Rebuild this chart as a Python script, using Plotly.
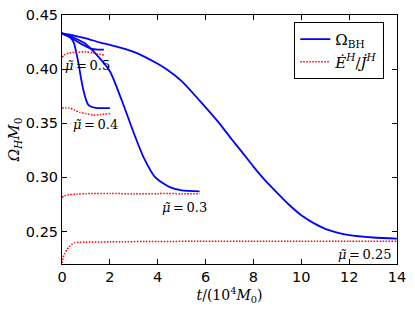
import plotly.graph_objects as go

# mu = 0.25
t_b25 = [0, 0.5, 1, 1.6, 2, 3, 4, 4.4, 5, 5.75, 6.5, 7.1, 7.5, 8, 8.5, 9, 9.5, 10, 10.5, 11, 11.5, 12, 13, 14]
o_b25 = [0.433, 0.4310, 0.4285, 0.4245, 0.4225, 0.4160, 0.4050, 0.3995, 0.389, 0.371, 0.352, 0.335, 0.324, 0.310, 0.297, 0.2855, 0.2745, 0.265, 0.258, 0.2525, 0.2490, 0.2466, 0.2445, 0.2435]
t_r25 = [0, 0.05, 0.1, 0.2, 0.3, 0.4, 0.5, 0.7, 1, 2, 4, 6, 8, 10, 12, 14]
o_r25 = [0.221, 0.226, 0.229, 0.233, 0.236, 0.238, 0.2395, 0.2400, 0.2402, 0.2405, 0.2408, 0.241, 0.241, 0.241, 0.241, 0.241]

# mu = 0.3
t_b30 = [0, 0.5, 1, 1.5, 2, 2.5, 3, 3.4, 3.9, 4.5, 5, 5.75]
o_b30 = [0.433, 0.429, 0.423, 0.412, 0.398, 0.371, 0.341, 0.319, 0.300, 0.291, 0.288, 0.287]
t_r30 = [0, 0.1, 0.3, 0.6, 1, 2, 3, 4, 5, 5.75]
o_r30 = [0.2815, 0.283, 0.284, 0.2845, 0.285, 0.2852, 0.2848, 0.285, 0.285, 0.285]

# mu = 0.4
t_b40 = [0, 0.2, 0.4, 0.5, 0.6, 0.7, 0.8, 0.9, 1.0, 1.1, 1.25, 1.5, 2.0]
o_b40 = [0.433, 0.431, 0.428, 0.424, 0.415, 0.404, 0.391, 0.380, 0.372, 0.367, 0.365, 0.364, 0.364]
t_r40 = [0, 0.3, 0.5, 0.75, 1.0, 1.3, 1.6, 2.0]
o_r40 = [0.364, 0.364, 0.3625, 0.360, 0.359, 0.3575, 0.358, 0.359]

# mu = 0.5
t_b50 = [0, 0.3, 0.6, 0.9, 1.2, 1.5, 1.75]
o_b50 = [0.433, 0.430, 0.426, 0.422, 0.419, 0.418, 0.418]
t_r50 = [0, 0.1, 0.3, 0.6, 1.0, 1.3, 1.5, 1.75]
o_r50 = [0.411, 0.413, 0.415, 0.4155, 0.416, 0.415, 0.414, 0.413]

labels = ["<i>μ̃</i>\u2009=\u20090.5", "<i>μ̃</i>\u2009=\u20090.4", "<i>μ̃</i>\u2009=\u20090.3", "<i>μ̃</i>\u2009=\u20090.25"]
label_t = [1.08, 1.42, 5.1, 13.85]
label_o = [0.4035, 0.349, 0.2723, 0.229]
label_anchor = ["center", "center", "center", "right"]

x_ticks = [0, 2, 4, 6, 8, 10, 12, 14]
y_ticks = [0.25, 0.30, 0.35, 0.40, 0.45]

fig = go.Figure()
blue = dict(color="#0000ff", width=1.8, shape="spline", smoothing=0.7)
red = dict(color="#ff0000", width=1.5, dash="1.5px,1.5px", shape="spline", smoothing=0.7)

series = [(t_b25, o_b25, t_r25, o_r25), (t_b30, o_b30, t_r30, o_r30),
          (t_b40, o_b40, t_r40, o_r40), (t_b50, o_b50, t_r50, o_r50)]
for i, (tb, ob, tr, orr) in enumerate(series):
    fig.add_trace(go.Scatter(x=tb, y=ob, mode="lines", line=blue, name="Ω<sub>BH</sub>",
                             legendgroup="b", showlegend=(i == 0), legendrank=1))
for i, (tb, ob, tr, orr) in enumerate(series):
    fig.add_trace(go.Scatter(x=tr, y=orr, mode="lines", line=red,
                             name="<i>Ė<sup>H</sup></i>/<i>J̇<sup>H</sup></i>",
                             legendgroup="r", showlegend=(i == 0), legendrank=2))

for txt, tx, ty, anc in zip(labels, label_t, label_o, label_anchor):
    fig.add_annotation(x=tx, y=ty, text=txt, showarrow=False, xanchor=anc,
                       font=dict(family="DejaVu Serif", size=13, color="black"))

axis_common = dict(showline=True, linecolor="black", linewidth=1, mirror="ticks",
                   ticks="inside", ticklen=5, tickcolor="black", showgrid=False,
                   zeroline=False, automargin=False,
                   tickfont=dict(family="DejaVu Sans", size=14.5, color="black"))

fig.update_xaxes(range=[0, 14], tickvals=x_ticks, ticktext=[str(v) for v in x_ticks],
                 title=dict(text="<i>t</i>/(10<sup>4</sup><i>M</i><sub>0</sub>)",
                            font=dict(family="DejaVu Serif", size=14, color="black"), standoff=0),
                 **axis_common)
fig.update_yaxes(range=[0.22, 0.45], tickvals=y_ticks, ticktext=[f"{v:.2f}" for v in y_ticks],
                 title=dict(text="<i>Ω<sub>H</sub>M</i><sub>0</sub>",
                            font=dict(family="DejaVu Serif", size=15, color="black"), standoff=2),
                 **axis_common)

fig.update_layout(width=415, height=312, margin=dict(l=62, r=18, t=15, b=48),
                  plot_bgcolor="white", paper_bgcolor="white",
                  legend=dict(x=0.962, y=0.972, xanchor="right", yanchor="top",
                              bordercolor="black", borderwidth=1, bgcolor="white",
                              font=dict(family="DejaVu Serif", size=15, color="black"),
                              itemwidth=30, tracegroupgap=0))

fig.write_html("out.html", config={"displayModeBar": False},
               post_script="document.body.style.margin='0px';")
